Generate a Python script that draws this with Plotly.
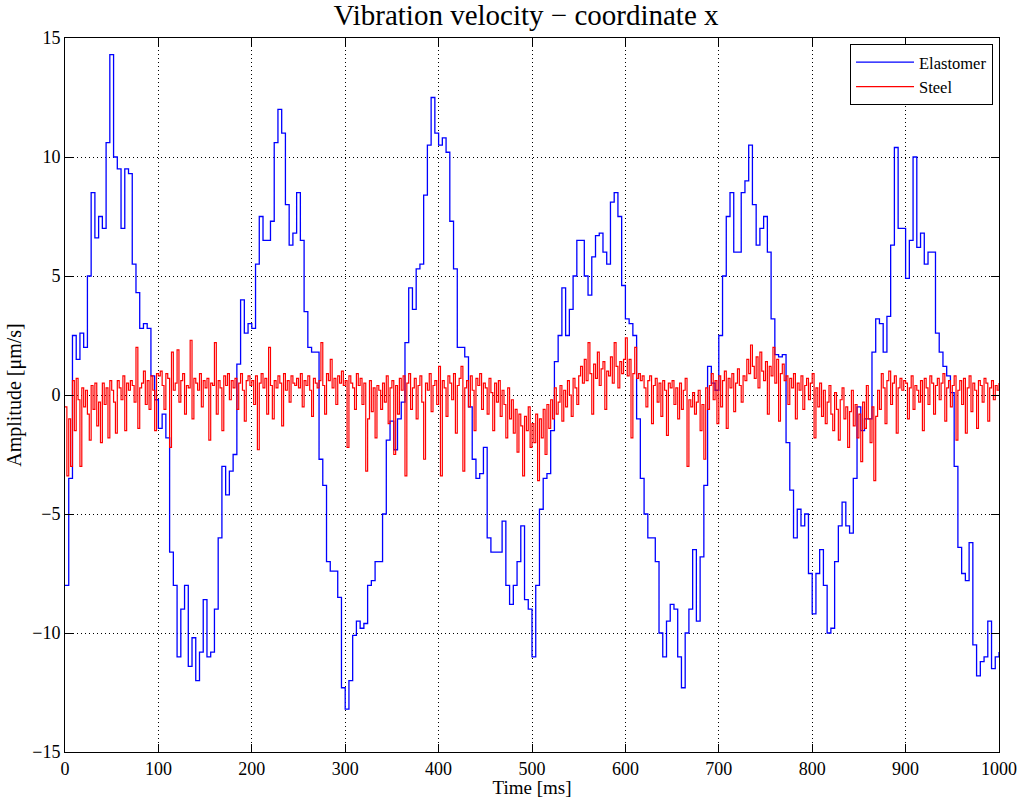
import numpy as np
import plotly.graph_objects as go

# sampling intervals (ms)
dt_elastomer = 4
dt_steel = 2

elastomer = [
    -8.0, -3.5, 2.5, 1.5, 2.6, 2.0, 5.0, 8.5, 6.6, 7.5, 7.0, 10.6, 14.3, 10.0, 9.5, 7.0, 9.5, 9.3, 5.5, 4.3, 2.8, 3.0, 2.8, 0.8, -0.2,
    -1.4, -0.8, -1.8, -6.6, -8.0, -11.0, -9.0, -8.0, -11.4, -10.2, -12.0, -10.8, -8.6, -11.0, -10.8, -9.0, -6.0, -3.0, -4.2, -3.2, -2.5, 1.3, 4.0, 2.6, 3.0,
    2.8, 5.5, 7.5, 6.5, 6.5, 7.3, 10.6, 12.0, 11.0, 8.0, 6.3, 6.8, 8.5, 6.5, 3.5, 2.0, 1.8, 1.8, -2.7, -3.8, -7.0, -7.4, -7.4, -8.5, -12.3,
    -13.2, -12.0, -10.1, -9.5, -9.8, -9.6, -8.0, -7.8, -7.0, -7.0, -5.0, -1.9, -1.1, -2.3, -1.0, -0.3, 2.2, 4.5, 3.6, 5.3, 5.5, 8.4, 10.5, 12.5, 11.0,
    10.5, 10.8, 10.2, 7.3, 5.3, 2.0, 2.0, 1.6, -0.5, -2.7, -3.5, -3.3, -2.2, -6.0, -6.6, -6.6, -6.6, -5.3, -8.0, -8.8, -8.0, -7.0, -5.5, -8.6, -9.0,
    -11.0, -8.0, -4.8, -3.5, -3.3, -1.5, 1.4, 2.5, 4.5, 2.5, 3.6, 5.0, 6.5, 6.5, 5.0, 4.2, 5.8, 6.7, 6.8, 6.0, 5.5, 8.1, 8.5, 7.5, 4.6,
    3.2, 3.0, 2.5, -1.0, -3.5, -5.0, -6.0, -6.0, -7.0, -10.0, -11.0, -9.5, -8.8, -9.0, -11.0, -12.3, -10.0, -9.0, -6.5, -9.5, -6.8, -3.8, 1.2, 0.5, 0.2,
    2.5, 5.0, 7.5, 8.5, 6.0, 6.0, 8.5, 9.0, 10.5, 8.0, 6.3, 7.0, 7.5, 6.0, 3.2, 1.7, 1.6, 1.7, -2.0, -4.0, -6.0, -4.8, -5.5, -5.0, -7.5,
    -9.2, -7.5, -6.5, -8.0, -10.0, -9.8, -7.0, -5.5, -4.5, -5.5, -5.8, -3.5, -0.5, -1.5, -1.0, -1.0, 1.8, 3.2, 3.0, 1.8, 3.3, 6.3, 10.4, 7.0, 7.0,
    4.9, 6.5, 10.0, 6.2, 6.8, 5.5, 6.0, 6.0, 2.6, 1.8, 1.2, 0.8, 0.1, -3.0, -6.4, -7.5, -7.8, -6.2, -10.5, -11.8, -11.2, -11.0, -9.5, -11.5, -11.0,
    -10.8,
]

steel = [
    -0.5, -3.4, -1.0, -3.0, 0.6, -1.5, 0.7, -0.2, -3.0, 0.3, -0.5, 0.2, -0.8, -1.9, 0.4, -0.6, 0.5, -1.3, -0.3, -2.0, 0.5, -0.4, 0.3, -1.8, 0.6,
    0.2, -0.3, -1.6, 0.6, 0.3, -0.2, 0.8, -1.5, 0.5, 0.2, 0.6, 0.4, -0.3, 2.0, -1.4, 0.3, 0.5, 1.0, -0.4, 0.6, -0.6, 0.8, 0.2, -1.5, 0.9,
    0.8, 1.0, 0.4, -0.6, 0.9, 0.7, -2.2, 1.8, 0.2, 0.5, 1.9, -0.3, 0.6, 0.9, -0.8, 0.4, 0.3, 2.3, -1.0, 0.7, 0.5, 0.2, 0.9, -0.5, 0.6,
    0.3, 0.7, -1.9, 0.5, 0.4, 2.2, -0.8, 0.6, 0.3, -1.5, 0.8, 0.4, 0.9, -0.2, 0.6, 0.3, 0.7, -0.6, 0.5, 0.9, 0.2, -1.1, 0.6, 0.8, 0.4,
    0.6, -0.4, 0.8, -2.3, 0.5, 0.9, 0.3, 0.7, -0.8, 2.0, 0.4, -1.0, 0.6, 0.3, 0.8, 0.5, -1.3, 0.9, 0.2, 0.6, -0.3, 0.8, 0.5, 0.4, 0.7,
    0.3, 0.9, -0.5, 0.6, 0.4, 0.8, 0.2, -0.9, 0.7, 0.5, 0.3, 0.6, 2.2, 0.4, -0.8, 0.9, 0.6, 1.5, 0.3, 0.7, -0.4, 0.8, 0.5, 1.0, 0.4,
    0.6, -2.2, 0.8, 0.5, 0.3, -0.6, 0.9, 0.4, 0.7, -0.4, 0.5, -3.2, -1.0, 0.6, -0.7, 0.3, -1.8, 0.4, 0.2, -0.6, 0.5, -0.3, 0.8, -1.2, 0.3,
    0.6, -2.5, 0.4, -0.8, 0.7, 0.2, 0.8, -3.4, 0.5, 0.9, -0.6, 0.3, 0.7, -1.0, 0.4, 0.8, -0.3, -2.7, 0.5, 0.2, 0.9, -0.7, 0.4, 0.6, -0.4,
    1.2, -3.4, 0.6, 0.3, -0.9, 0.8, 0.5, -0.2, 0.9, -1.6, 0.4, 0.7, 1.2, -3.2, 0.3, 0.6, -0.5, 0.8, 0.2, -1.5, 0.7, 0.4, 0.9, -0.6, 0.5,
    0.3, -0.8, 0.7, 0.1, -1.5, 0.5, -0.3, 0.6, -0.9, 0.2, -0.4, -1.8, 0.3, -1.0, -0.2, -1.6, -0.6, -2.4, -0.8, -1.3, -3.4, -0.9, -1.5, -0.5, -2.2,
    -1.2, -2.0, -0.8, -3.6, -1.0, -1.8, -0.6, -2.5, -0.4, -1.4, -0.2, -1.0, 0.3, -0.8, -0.3, 0.4, -1.1, 0.2, -0.5, 0.6, 0.0, -0.9, 0.7, 0.3, -0.4,
    0.8, 1.2, 0.5, 1.5, 0.6, 2.2, 0.9, -0.8, 1.3, 0.7, 1.8, 0.4, 1.1, 1.4, -0.6, 1.0, 0.8, 1.6, 0.5, 2.2, 1.2, 0.3, 1.4, 0.9, 1.5,
    2.4, 0.8, 1.5, -1.8, 0.9, 2.0, 0.7, 0.9, 0.6, 0.8, 0.3, -0.5, 0.6, 0.8, -1.2, 0.4, 0.7, -0.3, 0.5, -0.9, 0.6, 0.2, -1.7, 0.5, 0.3,
    0.6, -0.4, 0.3, -1.0, 0.5, -0.6, 0.2, 0.7, -3.0, -0.2, -0.5, 0.1, -0.8, -0.3, 0.2, -1.5, -0.4, -2.7, 0.3, -0.6, 0.4, 0.9, -0.2, 0.6, -1.2,
    0.8, -0.5, 0.6, 1.0, -1.4, 0.7, 0.3, 0.9, -0.7, 0.5, 1.1, 0.4, -0.3, 0.8, 0.6, 1.5, 0.9, 2.1, 1.2, 0.7, 1.6, 0.3, 1.8, 1.0, 0.6,
    1.4, -0.8, 1.2, 0.8, 2.0, 0.5, 1.5, -1.1, 0.9, 1.3, 0.6, 0.8, -0.4, 0.7, 0.3, 0.9, -1.0, 0.5, 0.2, 0.8, -0.6, 0.4, 0.7, -0.2, 0.5,
    0.9, -1.8, 0.3, -0.5, 0.5, -0.9, 0.2, -1.2, -0.3, 0.4, -0.8, -1.5, 0.1, -0.6, -1.9, -0.2, 0.3, -1.0, -0.5, -2.2, -0.7, 0.2, -1.3, -0.4, -1.8,
    -0.8, -2.8, -0.3, -1.4, 0.4, -1.0, -2.0, -0.5, -3.6, -0.9, 0.2, -0.6, 0.9, 0.3, -1.2, 0.6, 1.0, -0.4, 0.5, 0.8, -1.6, 0.3, 0.7, 0.2, 0.6,
    0.5, -1.0, 0.3, 0.8, -0.6, 0.4, 0.2, -0.3, 0.6, -1.5, 0.7, 0.3, -0.4, 0.8, 0.5, -0.8, 0.4, 0.7, -0.2, 0.5, 0.9, -1.1, 0.3, 0.6, -0.5,
    0.4, 0.8, -1.9, 0.2, 0.6, -0.4, 0.7, -1.6, 0.3, 0.8, -0.7, 0.5, 0.2, -1.4, 0.6, 0.4, -0.3, 0.7, 0.5, -1.1, 0.3, 0.6, -0.2, 0.4, 0.2,
    0.5,
]

x_ticks = [0, 100, 200, 300, 400, 500, 600, 700, 800, 900, 1000]
y_ticks = [-15, -10, -5, 0, 5, 10, 15]

t_el = np.arange(len(elastomer)) * dt_elastomer
t_st = np.arange(len(steel)) * dt_steel

FONT = "Liberation Serif"

fig = go.Figure()
fig.add_trace(go.Scatter(x=t_el, y=elastomer, mode="lines", name="Elastomer",
                         line=dict(color="#0000ff", width=1.3, shape="hv")))
fig.add_trace(go.Scatter(x=t_st, y=steel, mode="lines", name="Steel",
                         line=dict(color="#ff0000", width=1.2, shape="hv")))

axis_common = dict(
    showline=True, linecolor="black", linewidth=1, mirror="ticks",
    ticks="inside", ticklen=8, tickcolor="black", automargin=False,
    showgrid=True, gridcolor="black", griddash="1px,3px", gridwidth=1,
    zeroline=False, tickfont=dict(family=FONT, size=18, color="black"),
)

fig.update_layout(
    template="none",
    width=1022, height=798,
    margin=dict(l=65, r=23, t=38, b=46, pad=0),
    paper_bgcolor="white", plot_bgcolor="white",
    title=dict(text="Vibration velocity \u2212 coordinate x", x=0.5147, xanchor="center",
               xref="container", yref="container",
               y=0.981, yanchor="middle", font=dict(family=FONT, size=29, color="black")),
    xaxis=dict(range=[0, 1000], tickvals=x_ticks,
               title=dict(text="Time [ms]", font=dict(family=FONT, size=19, color="black"), standoff=0),
               **axis_common),
    yaxis=dict(range=[-15, 15], tickvals=y_ticks,
               title=dict(text="Amplitude [\u03bcm/s]", font=dict(family=FONT, size=20, color="black"), standoff=5),
               **axis_common),
    legend=dict(x=0.9936, y=0.9916, xanchor="right", yanchor="top",
                bgcolor="white", bordercolor="black", borderwidth=1,
                font=dict(family=FONT, size=16.5, color="black"),
                tracegroupgap=0, itemwidth=58),
    showlegend=True,
)

fig.write_html("out.html", config={"displayModeBar": False},
               post_script="document.body.style.margin='0';")
